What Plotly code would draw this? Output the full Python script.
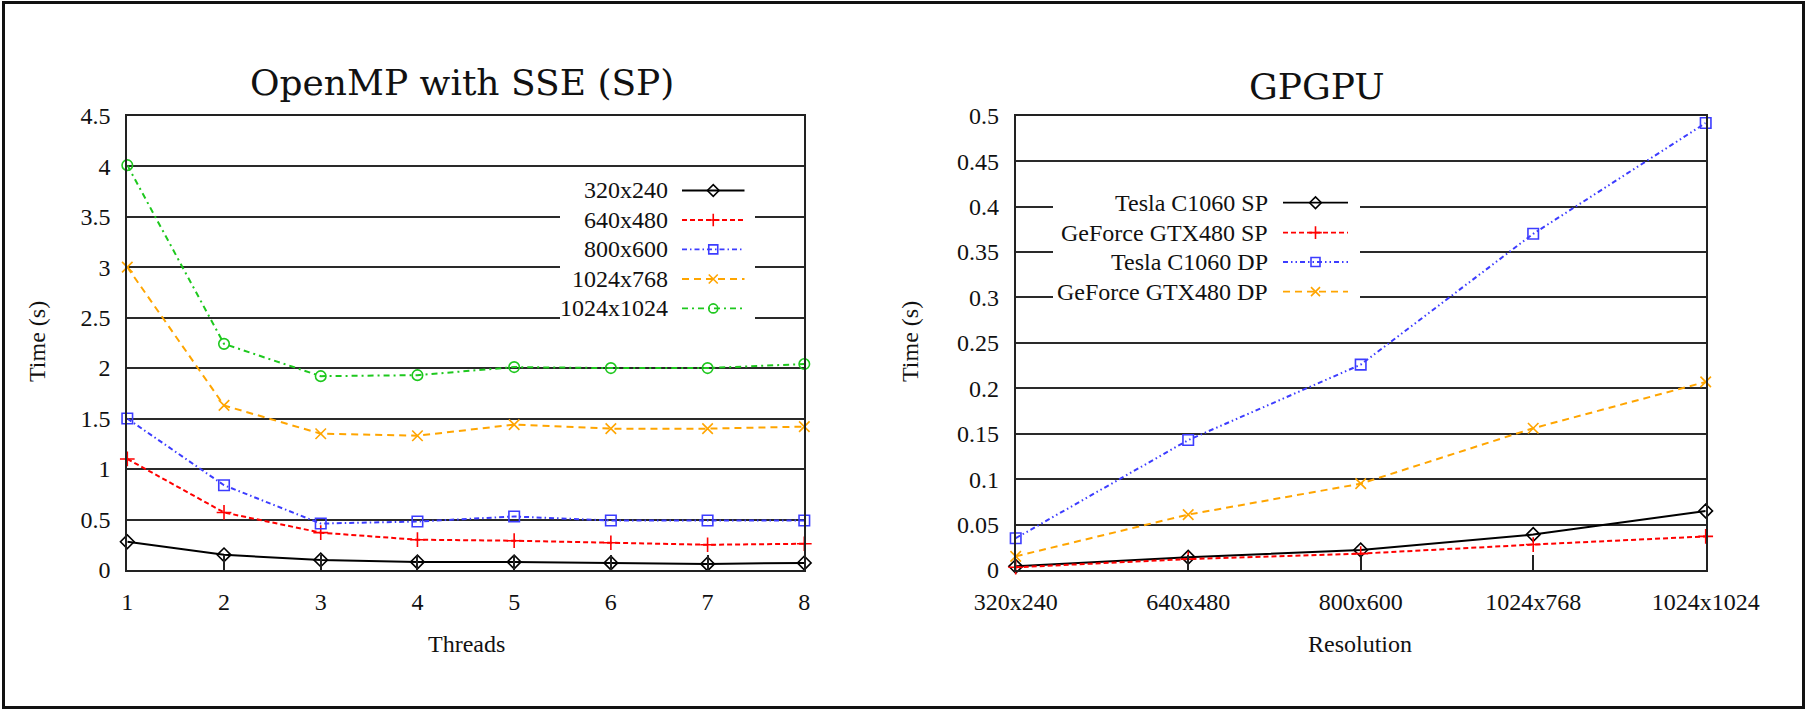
import plotly.graph_objects as go

# ---------------- data ----------------
threads = [1, 2, 3, 4, 5, 6, 7, 8]
omp_320x240 = [0.28, 0.15, 0.10, 0.08, 0.08, 0.07, 0.06, 0.07]
omp_640x480 = [1.10, 0.57, 0.37, 0.30, 0.29, 0.27, 0.25, 0.26]
omp_800x600 = [1.50, 0.84, 0.46, 0.48, 0.53, 0.49, 0.49, 0.49]
omp_1024x768 = [3.00, 1.63, 1.35, 1.33, 1.44, 1.40, 1.40, 1.42]
omp_1024x1024 = [4.01, 2.24, 1.92, 1.93, 2.01, 2.00, 2.00, 2.04]
omp_names = ["320x240", "640x480", "800x600", "1024x768", "1024x1024"]

resolutions = ["320x240", "640x480", "800x600", "1024x768", "1024x1024"]
tesla_sp = [0.004, 0.014, 0.022, 0.039, 0.065]
gtx_sp = [0.003, 0.012, 0.018, 0.028, 0.037]
tesla_dp = [0.035, 0.143, 0.226, 0.370, 0.492]
gtx_dp = [0.015, 0.061, 0.095, 0.156, 0.207]
gpu_names = ["Tesla C1060 SP", "GeForce GTX480 SP", "Tesla C1060 DP", "GeForce GTX480 DP"]

left_yticks = [0, 0.5, 1, 1.5, 2, 2.5, 3, 3.5, 4, 4.5]
right_yticks = [0, 0.05, 0.1, 0.15, 0.2, 0.25, 0.3, 0.35, 0.4, 0.45, 0.5]

# ---------------- page geometry (pixels) ----------------
W, H = 1807, 711
PLOT_TOP, PLOT_BOTTOM = 115.7, 570.0
L_LEFT, L_RIGHT = 127.3, 804.3
R_LEFT, R_RIGHT = 1015.7, 1705.7

SERIF = "Liberation Serif, Times New Roman, serif"
TITLE_FONT = "DejaVu Serif, serif"
TXT = 24

styles = [
    dict(color="#000000", dash="solid", symbol="diamond-open"),
    dict(color="#ff0000", dash="5px,3px", symbol="cross-thin-open"),
    dict(color="#3c3cff", dash="5px,3px,1.5px,3px", symbol="square-open"),
    dict(color="#ffa500", dash="7px,5px", symbol="x-thin-open"),
    dict(color="#1ec81e", dash="6px,4px,2px,4px", symbol="circle-open"),
]
gpu_styles = [
    styles[0],
    styles[1],
    dict(color="#3c3cff", dash="5px,3px,1.5px,3px,1.5px,3px", symbol="square-open"),
    styles[3],
]


def lx(px):
    return 1 + (px - L_LEFT) / (L_RIGHT - L_LEFT) * 7


def ly(py):
    return (PLOT_BOTTOM - py) / (PLOT_BOTTOM - PLOT_TOP) * 4.5


def rx(px):
    return (px - R_LEFT) / (R_RIGHT - R_LEFT) * 4


def ry(py):
    return (PLOT_BOTTOM - py) / (PLOT_BOTTOM - PLOT_TOP) * 0.5


def px_x(px):
    return px / W


def px_y(py):
    return 1 - py / H


fig = go.Figure()


def add_series(x, y, st, xa, ya):
    fig.add_trace(go.Scatter(
        x=x, y=y, mode="lines+markers", xaxis=xa, yaxis=ya,
        line=dict(color=st["color"], width=2, dash=st["dash"]),
        marker=dict(symbol=st["symbol"], size=10.5, color=st["color"],
                    line=dict(color=st["color"], width=1.6)),
        cliponaxis=False, showlegend=False, hoverinfo="skip"))


omp_series = [omp_320x240, omp_640x480, omp_800x600, omp_1024x768, omp_1024x1024]
for ys, st in zip(omp_series, styles):
    add_series(threads, ys, st, "x", "y")

gpu_series = [tesla_sp, gtx_sp, tesla_dp, gtx_dp]
res_idx = list(range(len(resolutions)))
for ys, st in zip(gpu_series, gpu_styles):
    add_series(res_idx, ys, st, "x2", "y2")


def label(text, cx, cy, size=TXT, family=SERIF, angle=0, xanchor="center"):
    fig.add_annotation(x=px_x(cx), y=px_y(cy), xref="paper", yref="paper",
                       text=text, showarrow=False, textangle=angle,
                       xanchor=xanchor, yanchor="middle",
                       font=dict(family=family, size=size, color="#111"))


# ---------------- key boxes (text left, sample right) ----------------
def add_key(names, stys, xf, yf, xa, ya, box, text_right, s0, s1, rows):
    fig.add_shape(type="rect", xref=xa, yref=ya, layer="between",
                  x0=xf(box[0]), x1=xf(box[1]), y0=yf(box[2]), y1=yf(box[3]),
                  fillcolor="white", line=dict(width=0))
    for name, st, row in zip(names, stys, rows):
        fig.add_trace(go.Scatter(
            x=[xf(s0), xf(s1)], y=[yf(row), yf(row)], mode="lines",
            xaxis=xa, yaxis=ya, line=dict(color=st["color"], width=1.8, dash=st["dash"]),
            cliponaxis=False, showlegend=False, hoverinfo="skip"))
        fig.add_trace(go.Scatter(
            x=[xf((s0 + s1) / 2)], y=[yf(row)], mode="markers",
            xaxis=xa, yaxis=ya,
            marker=dict(symbol=st["symbol"], size=9, color=st["color"],
                        line=dict(color=st["color"], width=1.6)),
            cliponaxis=False, showlegend=False, hoverinfo="skip"))
        label(name, text_right, row, xanchor="right")


add_key(omp_names, styles, lx, ly, "x", "y",
        (560, 755, 176, 328), 670, 682, 744.5,
        [190.5, 220.0, 249.4, 279.0, 308.4])
add_key(gpu_names, gpu_styles, rx, ry, "x2", "y2",
        (1053, 1360, 186, 308), 1270, 1283, 1348,
        [202.7, 232.6, 262.0, 291.6])

# ---------------- titles ----------------
label("OpenMP with SSE (SP)", 462, 82, size=36, family=TITLE_FONT)
label("GPGPU", 1317, 86, size=36, family=TITLE_FONT)
label("Threads", 466, 644)
label("Resolution", 1360, 644)
for cx in (37, 910):
    label("Time (s)", cx, 342, angle=-90)

# outer frame
fig.add_shape(type="rect", xref="paper", yref="paper",
              x0=px_x(3.5), x1=px_x(1803.5), y0=px_y(707.5), y1=px_y(2.5),
              line=dict(color="#111", width=3), fillcolor="rgba(0,0,0,0)")

axis_common = dict(showline=True, linecolor="#222", linewidth=2, mirror=True,
                   automargin=False,
                   tickfont=dict(family=SERIF, size=TXT, color="#111"), zeroline=False)

fig.update_layout(
    width=W, height=H, margin=dict(l=0, r=0, t=0, b=0, pad=0),
    paper_bgcolor="white", plot_bgcolor="white", showlegend=False,
    xaxis=dict(domain=[px_x(L_LEFT), px_x(L_RIGHT)], range=[1, 8], tickvals=threads,
               ticks="inside", ticklen=15, tickwidth=1.5, tickcolor="#222",
               showgrid=False, ticklabelstandoff=9, anchor="y", **axis_common),
    yaxis=dict(domain=[px_y(PLOT_BOTTOM), px_y(PLOT_TOP)], range=[0, 4.5],
               tickvals=left_yticks, ticktext=[f"{v:g}" for v in left_yticks],
               ticks="", showgrid=True, gridcolor="#2a2a2a", gridwidth=2,
               ticklabelstandoff=10, anchor="x", **axis_common),
    xaxis2=dict(domain=[px_x(R_LEFT), px_x(R_RIGHT)], range=[0, 4], tickvals=res_idx,
                ticktext=resolutions, ticks="inside", ticklen=15, tickwidth=1.5,
                tickcolor="#222", showgrid=False, ticklabelstandoff=9, anchor="y2",
                **axis_common),
    yaxis2=dict(domain=[px_y(PLOT_BOTTOM), px_y(PLOT_TOP)], range=[0, 0.5],
                tickvals=right_yticks, ticktext=[f"{v:g}" for v in right_yticks],
                ticks="", showgrid=True, gridcolor="#2a2a2a", gridwidth=2,
                ticklabelstandoff=10, anchor="x2", **axis_common),
)

fig.write_html("out.html")
